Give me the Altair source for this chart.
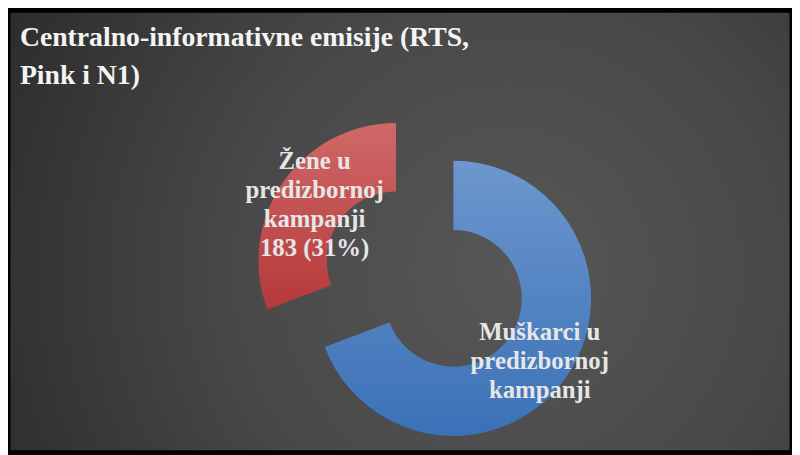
import math
import altair as alt
import pandas as pd

# ---- data ----
categories = ["Muškarci u predizbornoj kampanji", "Žene u predizbornoj kampanji"]
values = [412, 183]
labels = ["Muškarci u\npredizbornoj\nkampanji", "Žene u\npredizbornoj\nkampanji\n183 (31%)"]
order = [0, 1]
title_lines = ["Centralno-informativne emisije (RTS,", "Pink i N1)"]

W, H = 792, 447
total = sum(values)

df = pd.DataFrame({"category": categories, "value": values, "label": labels, "order": order})

base = (
    alt.Chart(df)
    .transform_window(cum="sum(value)", sort=[alt.SortField("order")])
    .transform_calculate(start="datum.cum - datum.value", mid="datum.cum - datum.value / 2")
)
theta_scale = alt.Scale(domain=[0, total], range=[0, 2 * math.pi])

blue_grad = alt.LinearGradient(
    gradient="linear",
    stops=[alt.GradientStop(color="#6d97ce", offset=0), alt.GradientStop(color="#3a71b7", offset=1)],
    x1=0, x2=0, y1=0, y2=1,
)
red_grad = alt.LinearGradient(
    gradient="linear",
    stops=[alt.GradientStop(color="#d06868", offset=0), alt.GradientStop(color="#b5393a", offset=1)],
    x1=0, x2=0, y1=0, y2=1,
)
bg_grad = alt.RadialGradient(
    gradient="radial",
    stops=[
        alt.GradientStop(color="#575757", offset=0),
        alt.GradientStop(color="#484848", offset=0.45),
        alt.GradientStop(color="#262626", offset=1),
    ],
    x1=0.64, y1=0.55, r1=0, x2=0.64, y2=0.55, r2=0.8,
)

# centres of the (exploded) slices
BLUE_C = (450, 291)
RED_C = (392, 253)
LH = 29.5

bg = alt.Chart(pd.DataFrame({"a": [0]})).mark_rect(
    fill=bg_grad, stroke="#000000", strokeWidth=5
).encode(x=alt.value(0), x2=alt.value(W), y=alt.value(0), y2=alt.value(H))

blue_arc = base.transform_filter(alt.datum.order == 0).mark_arc(
    x=BLUE_C[0], y=BLUE_C[1], innerRadius=69, outerRadius=139, fill=blue_grad
).encode(theta=alt.Theta("start:Q", scale=theta_scale), theta2="cum:Q")

red_arc = base.transform_filter(alt.datum.order == 1).mark_arc(
    x=RED_C[0], y=RED_C[1], innerRadius=70, outerRadius=139, fill=red_grad
).encode(theta=alt.Theta("start:Q", scale=theta_scale), theta2="cum:Q")

label_style = dict(
    font="Liberation Serif", fontWeight="bold", fontSize=25, color="#e6e6e6",
    align="center", baseline="middle", lineBreak="\n", lineHeight=LH,
)

blue_text = base.transform_filter(alt.datum.order == 0).mark_text(
    x=BLUE_C[0], y=BLUE_C[1], radius=106, dy=-LH * 0.9, **label_style
).encode(theta=alt.Theta("mid:Q", scale=theta_scale), text="label:N")

red_text = base.transform_filter(alt.datum.order == 1).mark_text(
    x=RED_C[0], y=RED_C[1], radius=100, dy=-LH * 1.5, **label_style
).encode(theta=alt.Theta("mid:Q", scale=theta_scale), text="label:N")

title = alt.Chart(pd.DataFrame({"t": ["\n".join(title_lines)]})).mark_text(
    x=12, y=36, align="left", baseline="alphabetic", lineBreak="\n", lineHeight=38,
    font="Liberation Serif", fontWeight="bold", fontSize=28, color="#f4f4f4",
).encode(text="t:N")

chart = (
    alt.layer(bg, blue_arc, red_arc, red_text, blue_text, title)
    .properties(width=W, height=H, padding=0, autosize="none", background="#2a2a2a")
    .configure_view(strokeWidth=0)
)

chart.save("out.html", embed_options={"renderer": "svg", "actions": False})
